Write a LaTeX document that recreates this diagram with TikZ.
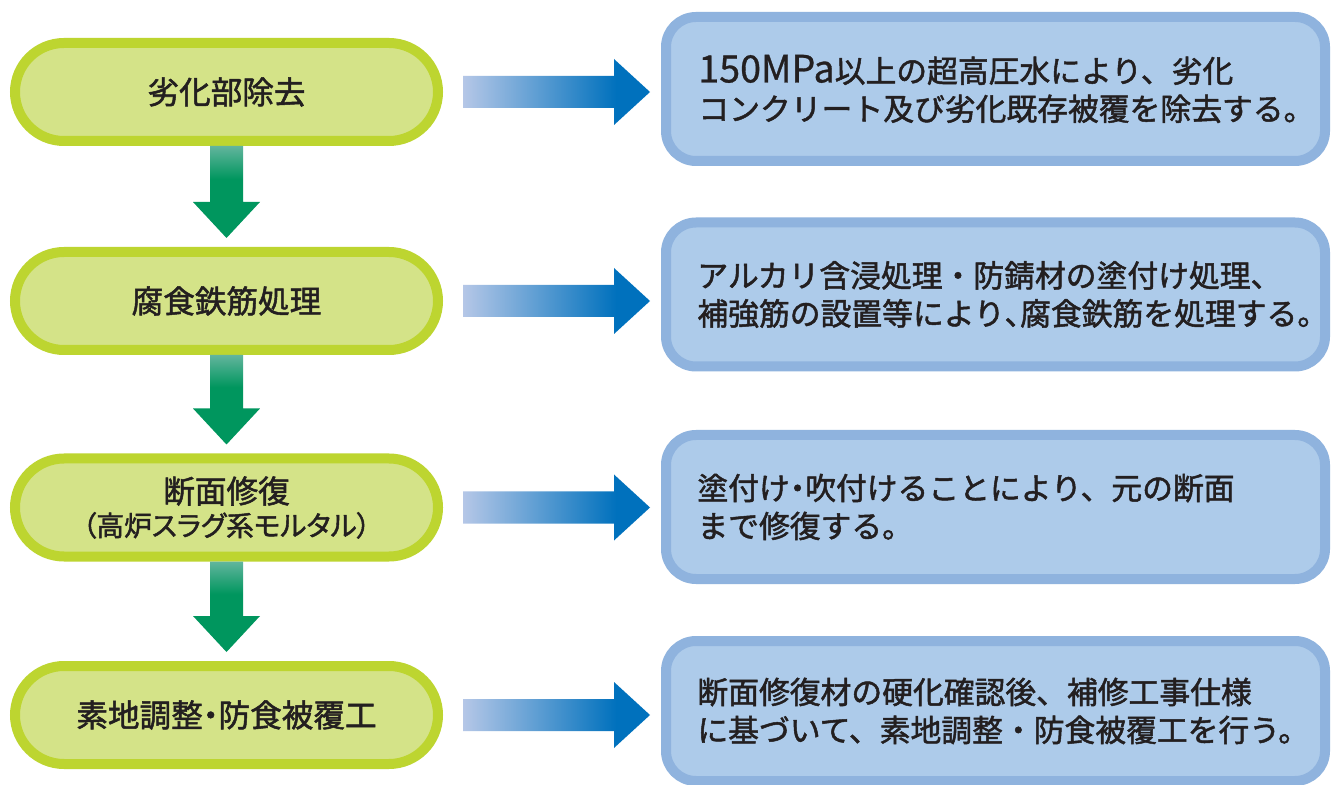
\documentclass[tikz,border=0pt]{standalone}
\usepackage{fontspec}
\setmainfont{Noto Sans CJK JP}[RawFeature={embolden=1.6}]
\newfontfamily\jpp{Noto Sans CJK JP}[RawFeature={+palt;embolden=1.6}]
\newfontfamily\jpl{Noto Sans CJK JP}[RawFeature={embolden=0.8}]
\usetikzlibrary{shapes.misc,calc}
\definecolor{lgborder}{HTML}{BDD530}
\definecolor{lgfill}{HTML}{D4E388}
\definecolor{rbborder}{HTML}{8FB3DE}
\definecolor{rbfill}{HTML}{ADCBEA}
\definecolor{gdark}{HTML}{00965E}
\definecolor{glight}{HTML}{62B59D}
\definecolor{bdark}{HTML}{0071BD}
\definecolor{blight}{HTML}{B5C7E7}
\definecolor{ink}{HTML}{231F20}
\pgfdeclareverticalshading{garr}{100bp}{color(0bp)=(gdark); color(25bp)=(gdark); color(57bp)=(gdark); color(75bp)=(glight); color(100bp)=(glight)}
\pgfdeclarehorizontalshading{barr}{100bp}{color(0bp)=(blight); color(25bp)=(blight); color(66bp)=(bdark); color(100bp)=(bdark)}
\newcommand{\hdot}{{\jpp ・}}
\newcommand{\hcomma}{{\jpp 、}}
\begin{document}
\begin{tikzpicture}[x=0.5pt,y=-0.5pt,
  stepbox/.style={rounded rectangle, draw=lgborder, fill=lgfill, line width=5pt,
    minimum width=211.5pt, minimum height=49pt, inner sep=0pt,
    font=\fontsize{15.8}{16.5}\selectfont, text=ink, align=center},
  descbox/.style={rectangle, rounded corners=15pt, draw=rbborder, fill=rbfill,
    line width=5pt, minimum width=329.5pt, minimum height=72pt, inner sep=0pt},
  desctext/.style={anchor=west, inner sep=0pt, align=left, text=ink,
    font=\fontsize{15.4}{19}\selectfont},
  garrow/.style={shading=garr},
  barrow/.style={shading=barr}]
\useasboundingbox (0,0) rectangle (1332,785);
\fill[white] (0,0) rectangle (1332,785);

% left step boxes
\node[stepbox] (s1) at (226.5,92) {劣化部除去};
\node[stepbox] (s2) at (226.5,301) {腐食鉄筋処理};
\node[stepbox] (s3) at (226.5,507.5) {断面修復\\{\jpp\fontsize{13.9}{16.5}\selectfont （高炉スラグ系モルタル）}};
\node[stepbox] (s4) at (226.5,715) {素地調整\hdot 防食被覆工};

% right description boxes
\node[descbox] (d1) at (995.5,89) {};
\node[descbox] (d2) at (995.5,294.5) {};
\node[descbox] (d3) at (995.5,507) {};
\node[descbox, minimum height=70pt] (d4) at (995.5,711) {};

\node[desctext] (t1) at ($(d1.west)+(37,0)$) {{\jpl\fontsize{18.8}{19}\selectfont 150MPa}以上の超高圧水により、劣化\\コンクリート及び劣化既存被覆を除去する。};
\node[desctext] (t2) at ($(d2.west)+(36,0)$) {アルカリ含浸処理・防錆材の塗付け処理、\\補強筋の設置等により\hcomma 腐食鉄筋を処理する。};
\node[desctext] (t3) at ($(d3.west)+(36,0)$) {塗付け\hdot 吹付けることにより、元の断面\\まで修復する。};
\node[desctext] (t4) at ($(d4.west)+(36,0)$) {断面修復材の硬化確認後、補修工事仕様\\に基づいて、素地調整・防食被覆工を行う。};

% green down arrows
\foreach \a/\b in {s1/s2, s2/s3, s3/s4}{
  \path[garrow] let \p1=(\a.south), \p2=($(\b.north)+(0,-9)$) in
    (\x1-8.25pt,\y1) -- (\x1+8.25pt,\y1) -- (\x1+8.25pt,\y2+18pt)
    -- (\x1+16.75pt,\y2+18pt) -- (\x1,\y2) -- (\x1-16.75pt,\y2+18pt)
    -- (\x1-8.25pt,\y2+18pt) -- cycle;
}

% blue right arrows
\foreach \a/\b in {s1/d1, s2/d2, s3/d3, s4/d4}{
  \path[barrow] let \p1=($(\a.east)+(20,0)$), \p2=($(\b.west)+(-11,0)$) in
    (\x1,\y1+8pt) -- (\x2-18pt,\y1+8pt) -- (\x2-18pt,\y1+16.5pt) -- (\x2,\y1)
    -- (\x2-18pt,\y1-16.5pt) -- (\x2-18pt,\y1-8pt) -- (\x1,\y1-8pt) -- cycle;
}
\end{tikzpicture}
\end{document}
